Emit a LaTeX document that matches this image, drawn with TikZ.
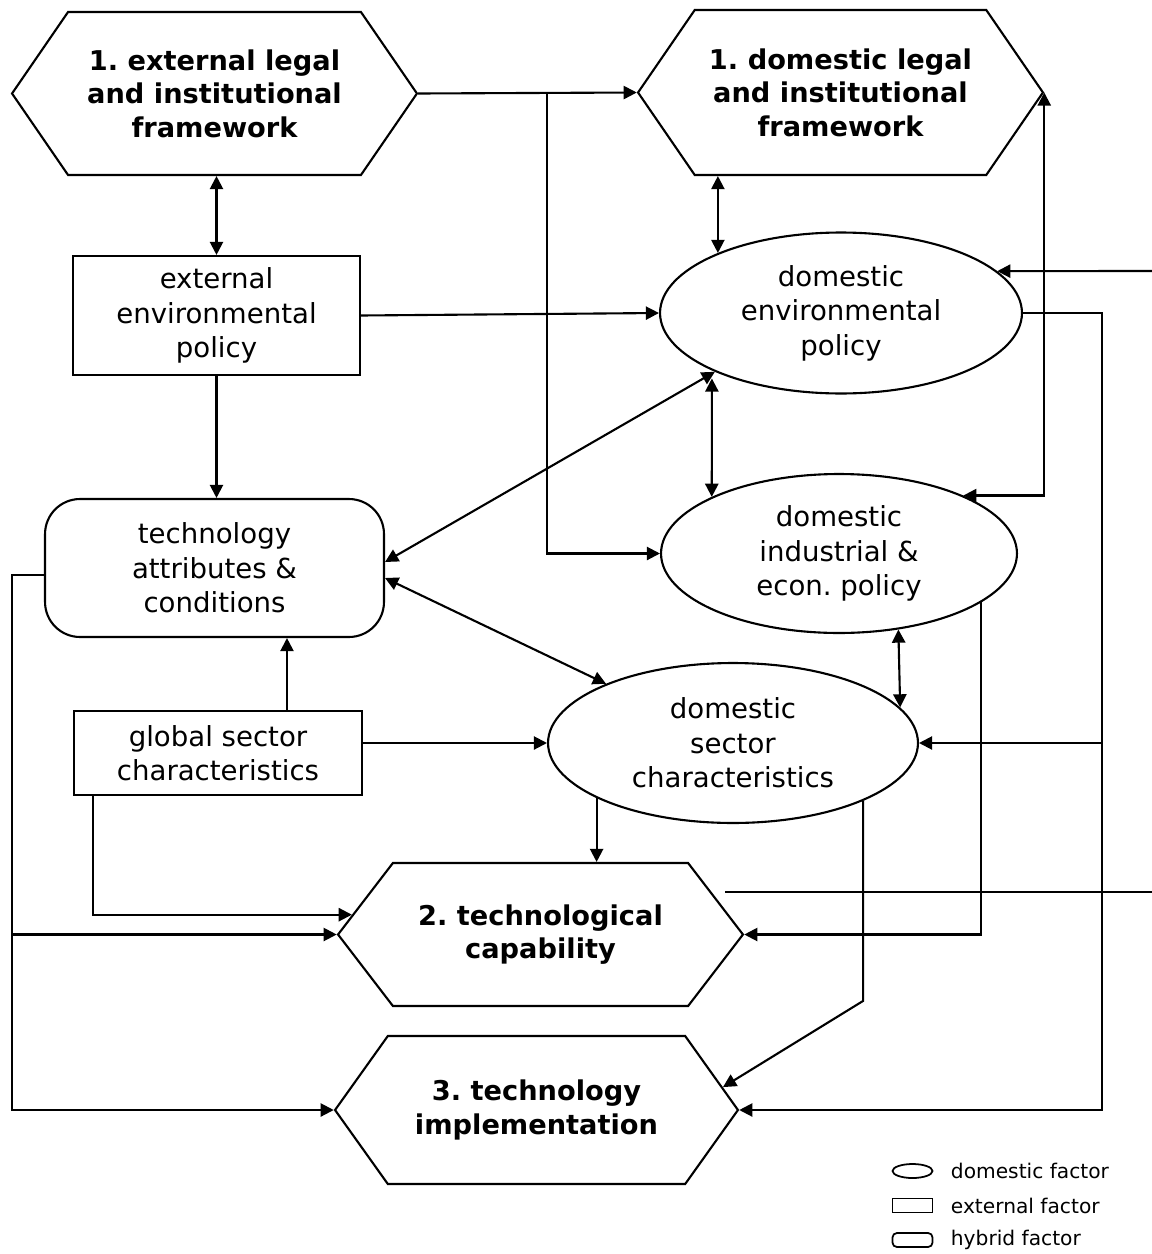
\documentclass[tikz,border=0pt]{standalone}
\usepackage{fontspec}
\setmainfont{DejaVu Sans}
\usetikzlibrary{arrows.meta, shapes.geometric, shapes.symbols, positioning, calc}

\tikzset{
  base/.style={draw, line width=1.2pt, align=center, inner sep=2pt,
               font=\fontsize{15.7}{19.6}\selectfont},
  hexbox/.style={base, signal, signal to=west and east,
                 font=\fontsize{15.5}{19}\selectfont\bfseries},
  extbox/.style={base, rectangle},
  hybbox/.style={base, rectangle, rounded corners=0.7cm},
  hybsym/.style={hybbox, rounded corners=2.5pt},
  domoval/.style={base, ellipse, inner sep=0pt},
}

\begin{document}
\frenchspacing
\begin{tikzpicture}[x=0.02cm, y=-0.02cm, line width=1.2pt,
                    >={Triangle[length=7.5pt,width=7.5pt]}]
\useasboundingbox (0,0) rectangle (1152,1254);

% factors
\node[hexbox, signal pointer angle=111, minimum width=8.1cm, minimum height=3.26cm]
  (exthex) at (214.5,93.5) {1. external legal\\and institutional\\framework};
\node[hexbox, signal pointer angle=111, minimum width=8.1cm, minimum height=3.3cm]
  (domhex) at (840.5,92.5) {1. domestic legal\\and institutional\\framework};
\node[extbox, minimum width=5.74cm, minimum height=2.38cm]
  (extenv) at (216.5,315.5) {external\\environmental\\policy};
\node[domoval, minimum width=7.24cm, minimum height=3.22cm]
  (domenv) at (841,313) {domestic\\environmental\\policy};
\node[hybbox, minimum width=6.78cm, minimum height=2.76cm]
  (techattr) at (214.5,568) {technology\\attributes \&\\conditions};
\node[domoval, minimum width=7.12cm, minimum height=3.18cm]
  (domind) at (839,553.5) {domestic\\industrial \&\\econ. policy};
\node[extbox, minimum width=5.76cm, minimum height=1.68cm]
  (globsec) at (218,753) {global sector\\characteristics};
\node[domoval, minimum width=7.4cm, minimum height=3.2cm]
  (domsec) at (733,743) {domestic\\sector\\characteristics};
\node[hexbox, signal pointer angle=105, minimum width=8.1cm, minimum height=2.86cm]
  (techcap) at (540.5,934.5) {2. technological\\capability};
\node[hexbox, signal pointer angle=109, minimum width=8.06cm, minimum height=2.96cm]
  (techimpl) at (536.5,1110) {3. technology\\implementation};

% connectors
\coordinate (split) at (547,93);
\draw[->] (exthex.east) -- (domhex.west);
\draw[->] (split) |- (domind.west);
\draw[<->] (extenv.north |- exthex.south) -- (extenv.north);
\draw[<->] (domhex.south -| domenv.154) -- (domenv.154);
\draw[->] (extenv.east) -- (domenv.west);
\draw[->] (extenv.south) -- (extenv.south |- techattr.north);
\draw[<->] ([yshift=0.12cm]techattr.east) -- (domenv.205);
\draw[<->] ([yshift=-0.2cm]techattr.east) -- (domsec.155);
\draw[<->] ([yshift=-0.16cm]domenv.204) -- (domind.156);
\coordinate (inR) at (1152,271);
\draw[->] (inR) -- (domenv.15);
\coordinate (busR) at (1102,313);
\draw[->] (domenv.east) -- (busR) |- (techimpl.east);
\draw[->] (busR |- domsec.east) -- (domsec.east);
\draw[<->] (domind.25) -| (domhex.east);
\draw[->] (domind.341) |- (techcap.east);
\draw[<->] (domind.308) -- (domsec.12);
\draw[->] (globsec.east |- domsec.west) -- (domsec.west);
\coordinate (pfoot) at ([xshift=1.38cm]globsec.north);
\draw[->] (pfoot) -- (pfoot |- techattr.south);
\draw[->] ([xshift=-2.5cm]globsec.south) |- (techcap.174);
\coordinate (busL) at (12,575);
\draw[->] (busL -| techattr.west) -- (busL) |- (techimpl.west);
\draw[->] (busL |- techcap.west) -- (techcap.west);
\draw[->] (domsec.202) -- (domsec.202 |- techcap.north);
\draw[->] (domsec.336) -- ++(0,200) -- (techimpl.7);
\coordinate (uL) at (725,892);
\coordinate (uR) at (1152,892);
\draw (uL) -- (uR);

% legend
\foreach \i/\y/\sty/\txt in {1/1171/domoval/{domestic factor},
                             2/1205.5/extbox/{external factor},
                             3/1240/hybsym/{hybrid factor}}{
  \node[\sty, minimum width=0.8cm, minimum height=0.28cm, line width=1pt] (sym\i) at (912.5,\y) {};
  \node[anchor=west, font=\fontsize{11.5}{13}\selectfont] (lab\i) at (944,\y) {\txt};
}
\end{tikzpicture}
\end{document}
